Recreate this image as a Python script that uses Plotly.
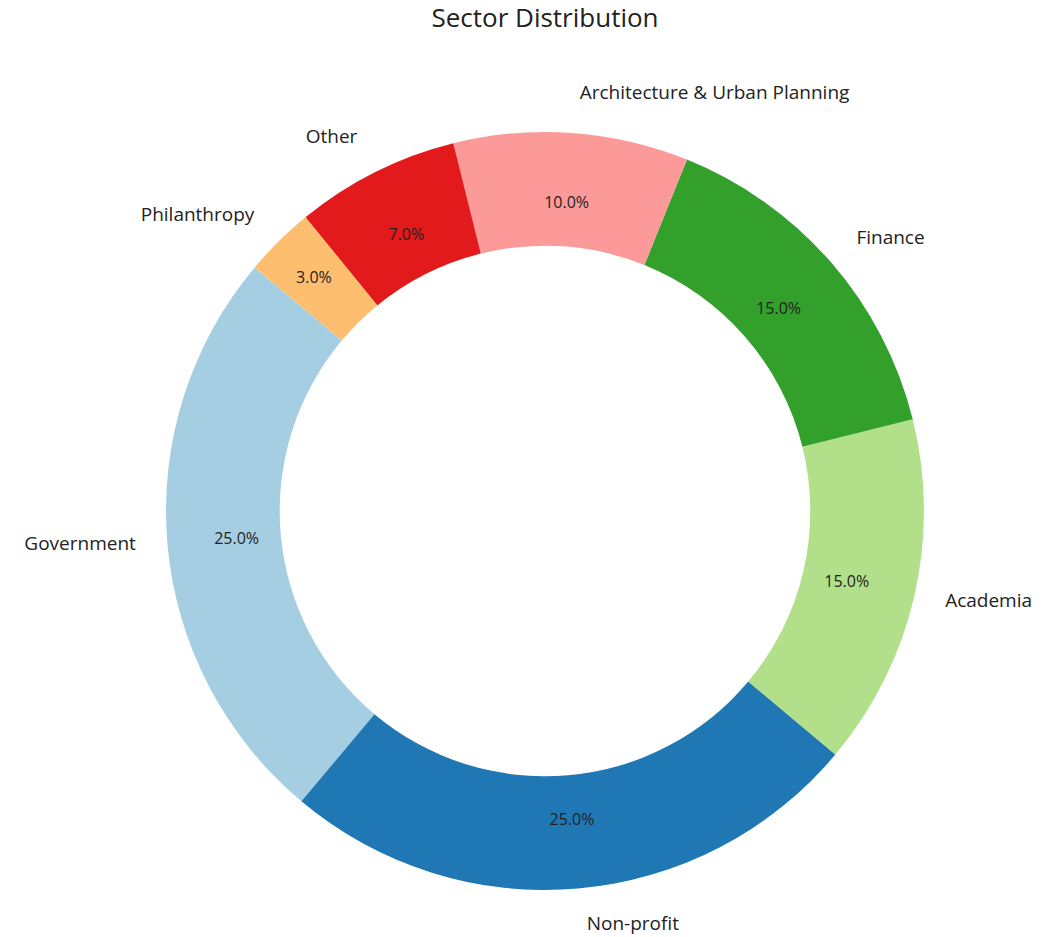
import plotly.graph_objects as go

sectors = ["Government", "Non-profit", "Academia", "Finance",
           "Architecture & Urban Planning", "Other", "Philanthropy"]
shares = [25, 25, 15, 15, 10, 7, 3]
colors = ["#a6cee3", "#1f78b4", "#b2df8a", "#33a02c", "#fb9a99", "#e31a1c", "#fdbf6f"]

W, H = 1057, 937
cx, cy, r = 545, 511, 379
rl, cyl = 404, 508      # ring (and centre) that carries the outer labels
rp, hp = 360, 0.72      # ring that carries the percentages (mid radius ~0.82 r)


def dom(rad, ccy=cy):
    return dict(x=[(cx - rad) / W, (cx + rad) / W],
                y=[(H - ccy - rad) / H, (H - ccy + rad) / H])


FONT = "Open Sans"
common = dict(labels=sectors, values=shares, sort=False,
              direction="counterclockwise", rotation=-140,
              automargin=False, showlegend=False)
clear = ["rgba(0,0,0,0)"] * len(sectors)

fig = go.Figure()
# coloured ring
fig.add_trace(go.Pie(
    **common, hole=0.7, domain=dom(r),
    marker=dict(colors=colors, line=dict(width=0)),
    textinfo="none", hoverinfo="label+percent",
))
# percentages
fig.add_trace(go.Pie(
    **common, hole=hp, domain=dom(rp),
    marker=dict(colors=clear, line=dict(width=0)),
    texttemplate="%{percent:.1%}", textposition="inside",
    insidetextorientation="horizontal",
    textfont=dict(family=FONT, size=16, color="#222222"),
    hoverinfo="skip",
))
# outer labels
fig.add_trace(go.Pie(
    **common, hole=0.95, domain=dom(rl, cyl),
    marker=dict(colors=clear, line=dict(width=0)),
    textinfo="label", textposition="outside",
    outsidetextfont=dict(family=FONT, size=19, color="#222222"),
    hoverinfo="skip",
))
fig.update_layout(
    width=W, height=H,
    margin=dict(l=0, r=0, t=0, b=0, autoexpand=False),
    paper_bgcolor="white", plot_bgcolor="white",
    title=dict(text="Sector Distribution", x=cx / W, xanchor="center",
               y=1 - 18 / H, yanchor="middle",
               font=dict(family=FONT, size=26, color="#222222")),
)
fig.write_html("out.html", config={"displayModeBar": False},
               post_script="document.body.style.margin='0';")
